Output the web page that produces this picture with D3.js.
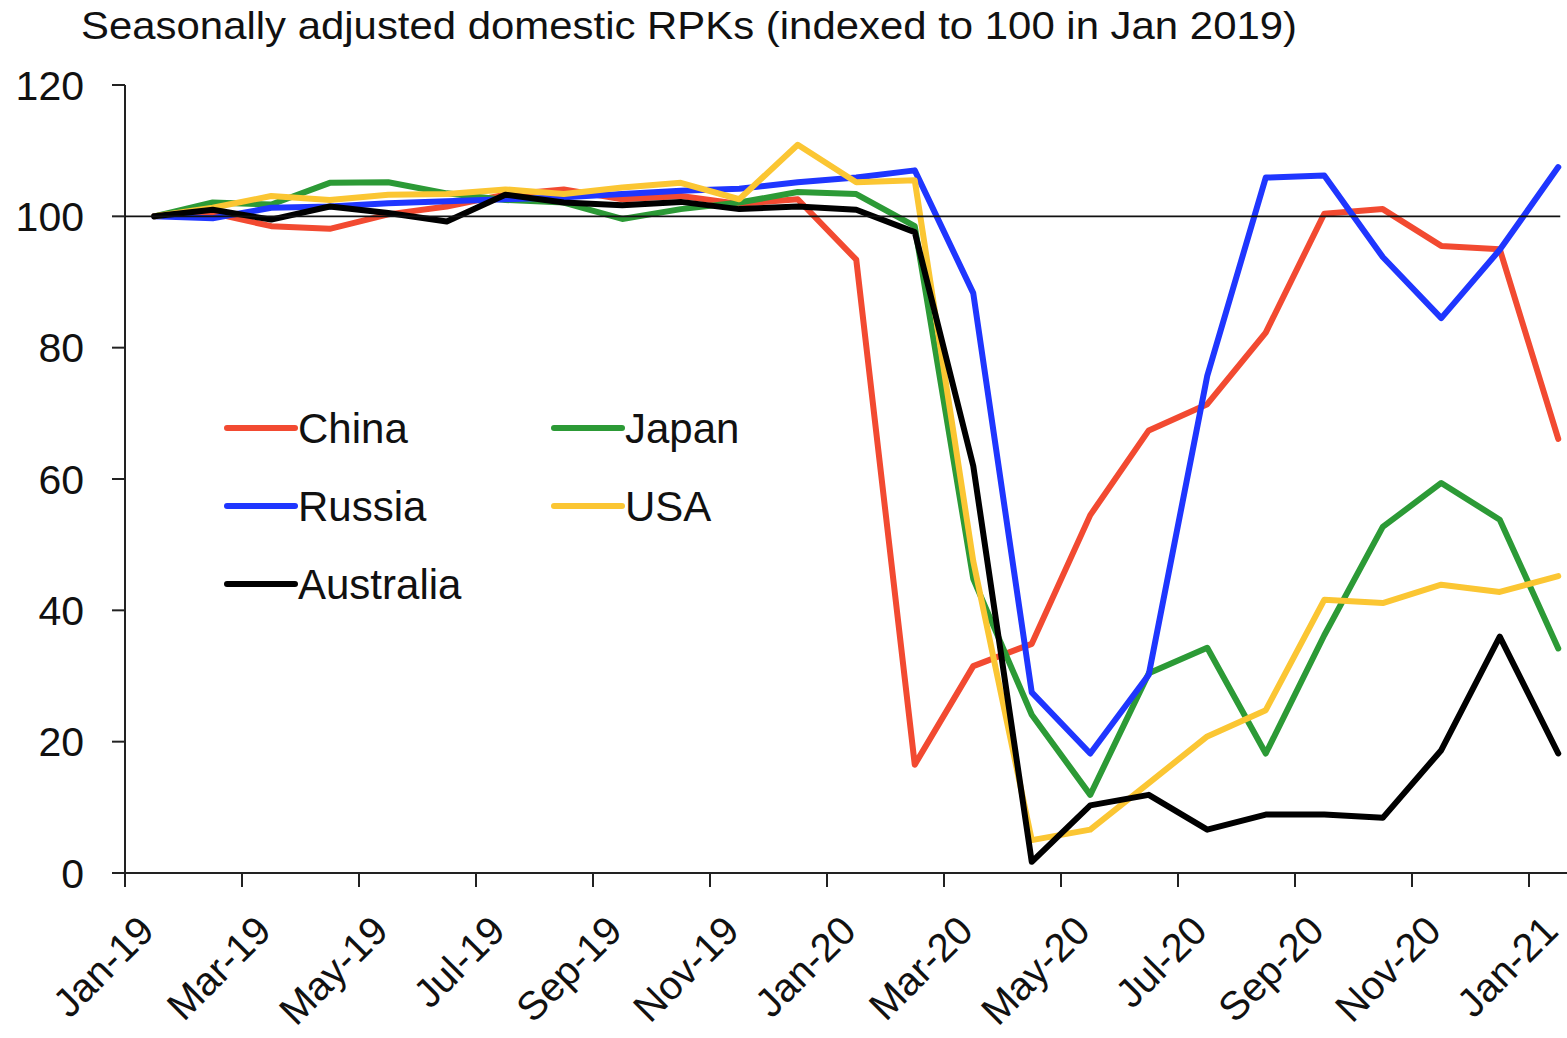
<!DOCTYPE html>
<html>
<head>
<meta charset="utf-8">
<script src="https://cdn.jsdelivr.net/npm/d3@7"></script>
<style>
  html, body { margin: 0; padding: 0; background: #fff; }
  svg { display: block; font-family: "Liberation Sans", Arial, sans-serif; }
</style>
</head>
<body>
<svg id="chart" width="1567" height="1038"></svg>
<script>
(function() {

  // months on the category axis
  var months = ["Jan-19", "Feb-19", "Mar-19", "Apr-19", "May-19", "Jun-19", "Jul-19", "Aug-19",
    "Sep-19", "Oct-19", "Nov-19", "Dec-19", "Jan-20", "Feb-20", "Mar-20", "Apr-20", "May-20",
    "Jun-20", "Jul-20", "Aug-20", "Sep-20", "Oct-20", "Nov-20", "Dec-20", "Jan-21"];

  var china = [100, 100.5, 98.5, 98.1, 100.3, 101.5, 103.3, 104.1, 102.6, 103.1, 101.9, 102.6,
    93.4, 16.5, 31.5, 34.9, 54.5, 67.4, 71.4, 82.3, 100.4, 101.1, 95.5, 95.0, 66.1];
  var japan = [100, 102.1, 101.8, 105.1, 105.2, 103.5, 102.5, 102.1, 99.6, 101.1, 102.1, 103.7,
    103.4, 98.5, 44.8, 24.1, 11.9, 30.4, 34.3, 18.2, 36.2, 52.7, 59.4, 53.8, 34.2];
  var russia = [100, 99.7, 101.3, 101.5, 102, 102.3, 102.6, 102.9, 103.4, 103.9, 104.2, 105.2,
    105.9, 107, 88.3, 27.5, 18.2, 30.2, 75.7, 105.9, 106.2, 93.8, 84.5, 94.9, 107.5];
  var usa = [100, 101.3, 103.1, 102.5, 103.3, 103.4, 104.1, 103.4, 104.4, 105.1, 102.6, 110.9,
    105.2, 105.5, 47.5, 5.0, 6.6, 13.7, 20.8, 24.8, 41.6, 41.1, 43.9, 42.8, 45.2];
  var australia = [100, 101, 99.5, 101.5, 100.5, 99.2, 103.3, 102.1, 101.7, 102.2, 101.1, 101.5,
    101, 97.6, 62, 1.7, 10.3, 11.9, 6.6, 8.9, 8.9, 8.4, 18.7, 36.0, 18.2];

  var seriesNames = ["China", "Japan", "Russia", "USA", "Australia"];
  var seriesValues = [china, japan, russia, usa, australia];
  var seriesColors = ["#f24a31", "#2c9a36", "#1f36ff", "#fbc633", "#000000"];

  var yTicks = [0, 20, 40, 60, 80, 100, 120];
  var baseline = 100;

  var svg = d3.select("#chart");

  var left = 125, top = 85, bottom = 873;
  var step = 58.5;

  var x = d3.scaleBand()
      .domain(months)
      .range([left, left + step * months.length])
      .padding(0);
  var y = d3.scaleLinear().domain([0, 120]).range([bottom, top]);

  var cx = function(m) { return x(m) + x.bandwidth() / 2; };

  // title
  svg.append("text")
      .attr("x", 81)
      .attr("y", 39)
      .attr("font-size", 39)
      .attr("fill", "#111")
      .attr("textLength", 1216)
      .attr("lengthAdjust", "spacingAndGlyphs")
      .text("Seasonally adjusted domestic RPKs (indexed to 100 in Jan 2019)");

  // y axis
  var yAxis = svg.append("g");
  yAxis.append("line")
      .attr("x1", left).attr("x2", left)
      .attr("y1", y(120)).attr("y2", y(0))
      .attr("stroke", "#222").attr("stroke-width", 2);
  yAxis.selectAll("line.tick")
      .data(yTicks)
      .enter().append("line")
      .attr("class", "tick")
      .attr("x1", left - 13).attr("x2", left)
      .attr("y1", function(d) { return y(d); })
      .attr("y2", function(d) { return y(d); })
      .attr("stroke", "#222").attr("stroke-width", 2);
  yAxis.selectAll("text")
      .data(yTicks)
      .enter().append("text")
      .attr("x", 84)
      .attr("y", function(d) { return y(d); })
      .attr("dy", "0.36em")
      .attr("text-anchor", "end")
      .attr("font-size", 41)
      .attr("fill", "#111")
      .text(function(d) { return d; });

  // x axis
  var xAxis = svg.append("g");
  xAxis.append("line")
      .attr("x1", left).attr("x2", left + step * months.length)
      .attr("y1", bottom).attr("y2", bottom)
      .attr("stroke", "#222").attr("stroke-width", 2);
  var labelled = months.filter(function(m, i) { return i % 2 === 0; });
  xAxis.selectAll("line.tick")
      .data(labelled)
      .enter().append("line")
      .attr("class", "tick")
      .attr("x1", function(d) { return x(d); })
      .attr("x2", function(d) { return x(d); })
      .attr("y1", bottom).attr("y2", bottom + 14)
      .attr("stroke", "#222").attr("stroke-width", 2);
  xAxis.selectAll("text")
      .data(labelled)
      .enter().append("text")
      .attr("text-anchor", "end")
      .attr("font-size", 40)
      .attr("fill", "#111")
      .attr("transform", function(d) {
        return "translate(" + (cx(d) + 2) + "," + (bottom + 60) + ") rotate(-45)";
      })
      .text(function(d) { return d; });

  // series lines
  var line = d3.line()
      .x(function(d) { return cx(d.m); })
      .y(function(d) { return y(d.v); });

  for (var i = 0; i < seriesNames.length; i++) {
    var pts = months.map(function(m, j) { return {m: m, v: seriesValues[i][j]}; });
    svg.append("path")
        .datum(pts)
        .attr("d", line)
        .attr("fill", "none")
        .attr("stroke", seriesColors[i])
        .attr("stroke-width", 6)
        .attr("stroke-linejoin", "round")
        .attr("stroke-linecap", "round");
  }

  // 100 reference line
  svg.append("line")
      .attr("x1", left)
      .attr("x2", cx(months[months.length - 1]) + 2)
      .attr("y1", y(baseline)).attr("y2", y(baseline))
      .attr("stroke", "#111").attr("stroke-width", 1.6);

  // legend, two columns filled row by row
  var legend = svg.append("g");
  seriesNames.forEach(function(name, i) {
    var col = i % 2, row = Math.floor(i / 2);
    var lx = 227 + col * 327, ly = 428 + row * 78;
    legend.append("line")
        .attr("x1", lx).attr("x2", lx + 68)
        .attr("y1", ly).attr("y2", ly)
        .attr("stroke", seriesColors[i])
        .attr("stroke-width", 6)
        .attr("stroke-linecap", "round");
    legend.append("text")
        .attr("x", lx + 71)
        .attr("y", ly)
        .attr("dy", "0.36em")
        .attr("font-size", 42)
        .attr("fill", "#111")
        .text(name);
  });

})();
</script>
</body>
</html>
